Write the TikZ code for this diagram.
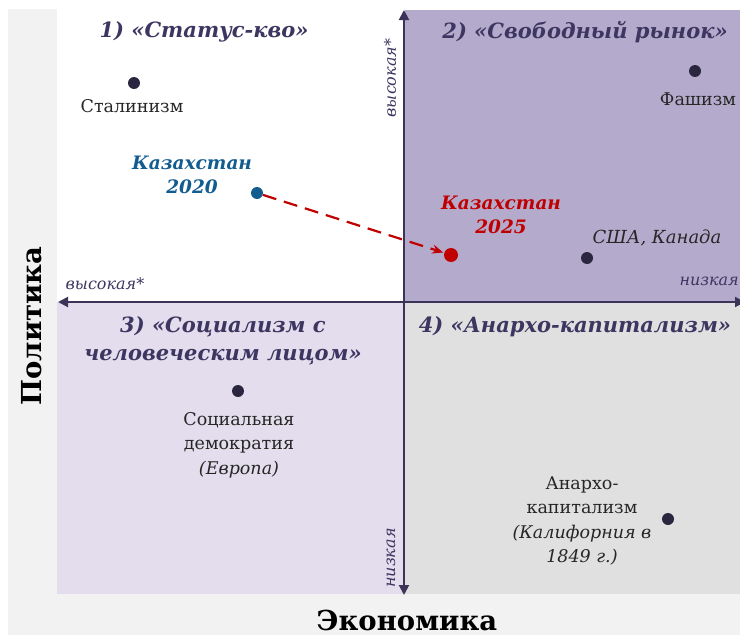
\documentclass[tikz,border=0pt]{standalone}
\usepackage{fontspec}
\setmainfont{DejaVu Serif}
\usetikzlibrary{arrows.meta}
\tikzset{>=Stealth}
\definecolor{axiscol}{HTML}{3B3358}
\definecolor{headcol}{HTML}{3D3660}
\definecolor{dotcol}{HTML}{2B2640}
\definecolor{stripcol}{HTML}{F2F2F2}
\definecolor{qtwo}{HTML}{B4AACC}
\definecolor{qthree}{HTML}{E3DDED}
\definecolor{qfour}{HTML}{E0E0E0}
\definecolor{kzblue}{HTML}{135C8F}
\definecolor{kzred}{HTML}{C00000}

\begin{document}
\begin{tikzpicture}[x=1pt,y=-1pt,
  axis/.style={draw=axiscol,line width=2pt,-{Triangle[length=10pt,width=10pt]}},
  dot/.style={circle,fill=dotcol,inner sep=0pt,minimum size=12pt},
  zone/.style={text=headcol,align=center,font=\bfseries\itshape\fontsize{21}{28}\selectfont},
  lab/.style={text=black!85,align=center,font=\fontsize{17.5}{24.5}\selectfont},
  kzlab/.style={align=center,font=\bfseries\itshape\fontsize{18.5}{24}\selectfont},
  level/.style={text=headcol,font=\itshape\fontsize{16}{18}\selectfont},
  title/.style={font=\bfseries\fontsize{27.5}{32}\selectfont}]
\useasboundingbox (0,0) rectangle (740,637);

% background
\fill[stripcol] (8,9) rectangle (57,635);
\fill[stripcol] (8,594) rectangle (740,635);
\fill[qtwo] (405,10) rectangle (740,302);
\fill[qthree] (57,302) rectangle (405,594);
\fill[qfour] (405,302) rectangle (740,594);

% axes
\coordinate (O) at (404,302);
\draw[axis] (O) -- (404,10);
\draw[axis] (O) -- (404,595);
\draw[axis] (O) -- (58,302);
\draw[axis] (O) -- (745,302);

\node[level,rotate=90] (vhigh) at (390,78) {высокая*};
\node[level,rotate=90] (vlow) at (391,558) {низкая};
\node[level] (hhigh) at (105,284) {высокая*};
\node[level,anchor=east,inner xsep=1pt] (hlow) at (740,281) {низкая};

% quadrants
\node[zone] (z1) at (204,32) {1) «Статус-кво»};
\node[zone] (z2) at (585,32) {2) «Свободный рынок»};
\node[zone] (z3) at (223,341) {3) «Социализм с\\человеческим лицом»};
\node[zone] (z4) at (575,327) {4) «Анархо-капитализм»};

% points
\node[dot] (stalin) at (134,83) {};
\node[lab] at (132,106) {Сталинизм};
\node[dot] (fasc) at (695,71) {};
\node[lab] at (698,99) {Фашизм};
\node[dot] (usa) at (587,258) {};
\node[lab,font=\itshape\fontsize{18}{25}\selectfont] at (657,238) {США, Канада};
\node[dot] (socdem) at (238,391) {};
\node[lab] at (239,445) {Социальная\\демократия\\\textit{(Европа)}};
\node[dot] (anarch) at (668,519) {};
\node[lab] at (582,521) {Анархо-\\капитализм\\\textit{(Калифорния в}\\\textit{1849 г.)}};

% Kazakhstan
\node[dot,fill=kzblue] (kz20) at (257,193) {};
\node[kzlab,text=kzblue] at (192,175) {Казахстан\\2020};
\node[dot,fill=kzred,minimum size=14pt] (kz25) at (451,255) {};
\node[kzlab,text=kzred] at (501,215) {Казахстан\\2025};
\draw[kzred,line width=2.2pt,dash pattern=on 14pt off 8pt,-{Stealth[length=11pt,width=9pt]},shorten >=1pt] (kz20) -- (kz25);

% axis titles
\node[title,rotate=90] (pol) at (32,326) {Политика};
\node[title] (econ) at (407,620) {Экономика};
\end{tikzpicture}
\end{document}
